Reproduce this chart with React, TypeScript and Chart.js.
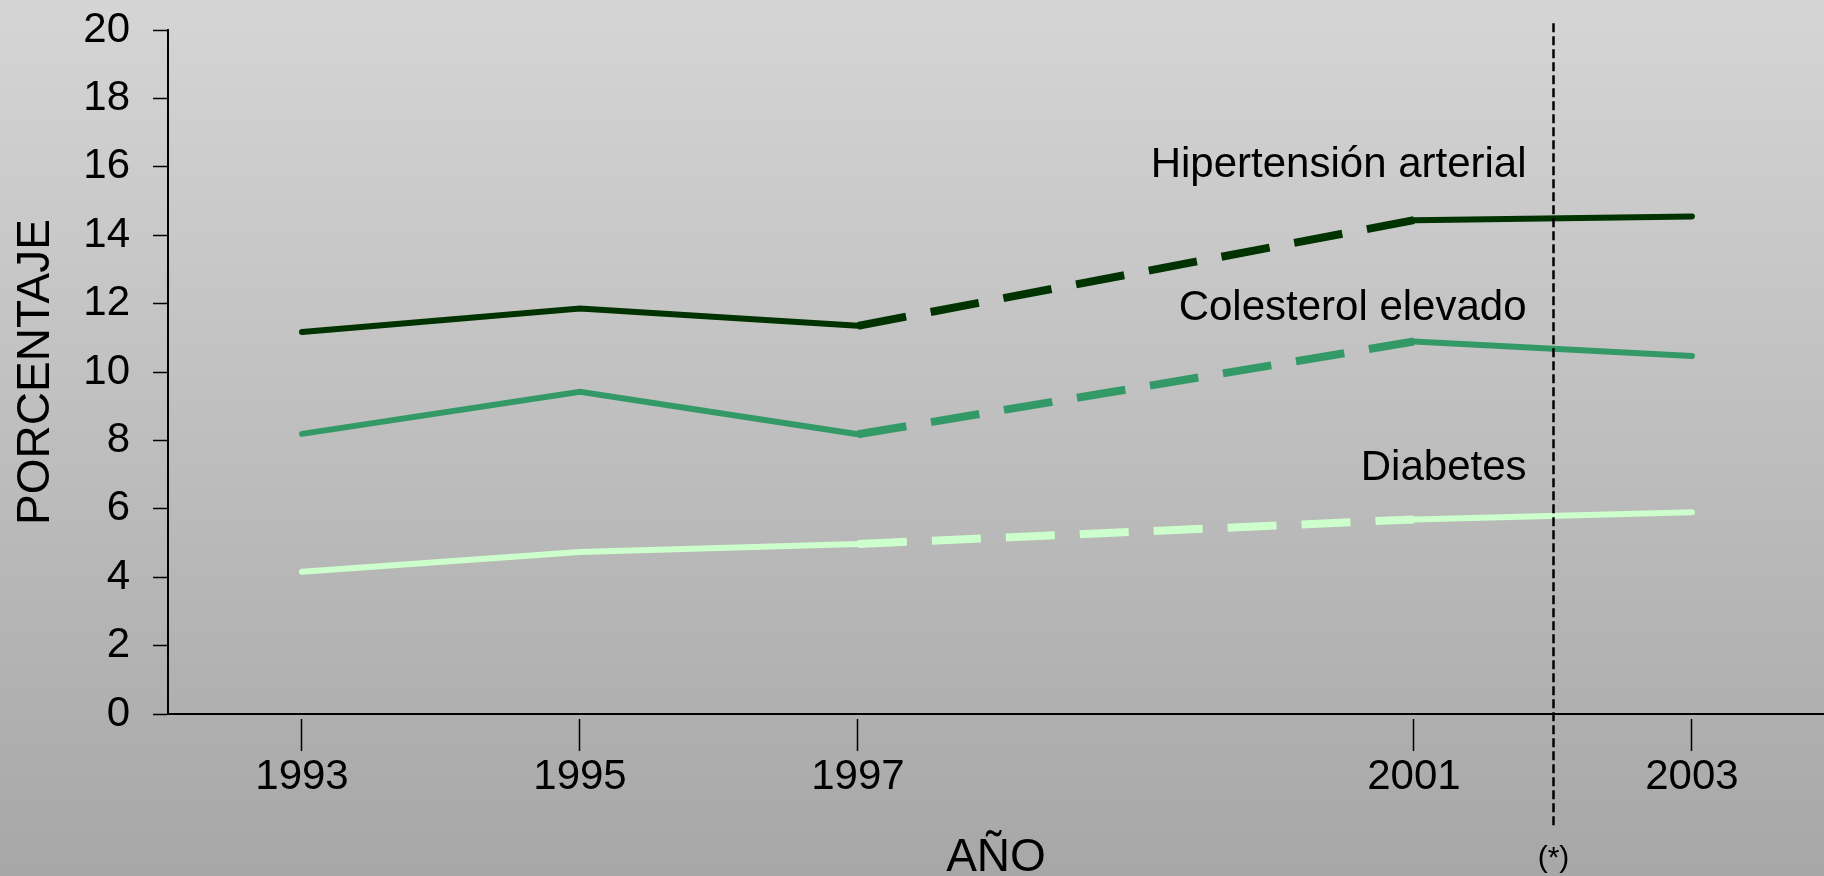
import React, { useEffect, useRef } from "react";
import { Chart, registerables } from "chart.js";

Chart.register(...registerables);

// ---- data ----
const years = [1993, 1995, 1997, 2001, 2003];
const hipertension = [11.17, 11.86, 11.35, 14.44, 14.55];
const colesterol = [8.19, 9.42, 8.18, 10.89, 10.47];
const diabetes = [4.16, 4.74, 4.97, 5.69, 5.9];
const seriesNames = ["Hipertensión arterial", "Colesterol elevado", "Diabetes"];
const seriesColors = ["#003300", "#339966", "#ccffcc"];
const yTicks = [0, 2, 4, 6, 8, 10, 12, 14, 16, 18, 20];
const labelYear = 2001.81;
const labelValues = [15.71, 11.52, 6.84];
const markerYear = 2002;
const markerNote = "(*)";
const markerTopValue = 20.2;
const markerBottomValue = -3.3;
const xTitle = "AÑO";
const yTitle = "PORCENTAJE";

const FONT = "'Liberation Sans', Arial, sans-serif";
const DASHED_FROM = 2; // segment 1997 -> 2001 is dashed

const bgPlugin = {
  id: "bgGradient",
  beforeDraw(chart: any) {
    const { ctx, width, height } = chart;
    ctx.save();
    const g = ctx.createLinearGradient(0, 0, 0, height);
    g.addColorStop(0, "#d5d5d5");
    g.addColorStop(1, "#a7a7a7");
    ctx.fillStyle = g;
    ctx.fillRect(0, 0, width, height);
    ctx.restore();
  },
};

const annotPlugin = {
  id: "annotations",
  afterDraw(chart: any) {
    const { ctx } = chart;
    const xs = chart.scales.x;
    const ys = chart.scales.y;
    ctx.save();
    ctx.font = `42px ${FONT}`;
    ctx.fillStyle = "#000";
    ctx.textAlign = "right";
    ctx.textBaseline = "alphabetic";
    seriesNames.forEach((name, i) => {
      ctx.fillText(name, xs.getPixelForValue(labelYear), ys.getPixelForValue(labelValues[i]));
    });
    const mx = Math.round(xs.getPixelForValue(markerYear)) + 0.5;
    const yTop = ys.getPixelForValue(markerTopValue);
    const yBot = ys.getPixelForValue(markerBottomValue);
    ctx.strokeStyle = "#000";
    ctx.lineWidth = 2.5;
    ctx.setLineDash([9, 4]);
    ctx.beginPath();
    ctx.moveTo(mx, yTop);
    ctx.lineTo(mx, yBot);
    ctx.stroke();
    ctx.setLineDash([]);
    ctx.font = `30px ${FONT}`;
    ctx.textAlign = "center";
    ctx.textBaseline = "alphabetic";
    ctx.fillText(markerNote, mx, yBot + 40);
    ctx.restore();
  },
};

function makeDataset(label: string, values: number[], color: string) {
  return {
    label,
    data: years.map((y, i) => ({ x: y, y: values[i] })),
    borderColor: color,
    backgroundColor: color,
    borderWidth: 6,
    pointRadius: 0,
    pointHoverRadius: 0,
    tension: 0,
    fill: false,
    borderCapStyle: "round",
    borderJoinStyle: "miter",
    segment: {
      borderDash: (c: any) => (c.p0DataIndex === DASHED_FROM ? [49, 25] : undefined),
      borderWidth: (c: any) => (c.p0DataIndex === DASHED_FROM ? 8 : undefined),
      borderCapStyle: (c: any) => (c.p0DataIndex === DASHED_FROM ? "butt" : undefined),
    },
  };
}

export default function App() {
  const ref = useRef<HTMLCanvasElement | null>(null);
  useEffect(() => {
    document.body.style.margin = "0";
    const canvas = ref.current;
    if (!canvas) return;
    const chart = new Chart(canvas, {
      type: "line",
      data: {
        datasets: [
          makeDataset(seriesNames[0], hipertension, seriesColors[0]),
          makeDataset(seriesNames[1], colesterol, seriesColors[1]),
          makeDataset(seriesNames[2], diabetes, seriesColors[2]),
        ] as any,
      },
      options: {
        responsive: false,
        animation: false,
        devicePixelRatio: 1,
        layout: { autoPadding: false, padding: { top: 30, left: 0, right: 0, bottom: 0 } },
        plugins: {
          legend: { display: false },
          tooltip: { enabled: false },
        },
        events: [],
        scales: {
          x: {
            type: "linear",
            position: "bottom",
            min: 1992.036,
            max: 2003.95,
            afterBuildTicks: (s: any) => {
              s.ticks = years.map((v) => ({ value: v }));
            },
            afterFit: (s: any) => {
              s.height = 162;
              s.paddingLeft = 0;
              s.paddingRight = 0;
            },
            ticks: {
              callback: (v: any) => String(v),
              font: { family: FONT, size: 42 },
              color: "#000",
              padding: 1,
              maxRotation: 0,
              autoSkip: false,
            },
            grid: {
              display: true,
              drawOnChartArea: false,
              drawTicks: true,
              tickLength: 37,
              tickColor: "#000",
              tickWidth: 1.5,
              tickBorderDash: [0, 4, 33, 200],
            },
            border: { display: true, color: "#000", width: 2 },
            title: {
              display: true,
              text: xTitle,
              color: "#000",
              font: { family: FONT, size: 46, lineHeight: 0.6 },
              padding: { top: 0, bottom: 3.7 },
            },
          },
          y: {
            type: "linear",
            min: 0,
            max: 20,
            afterBuildTicks: (s: any) => {
              s.ticks = yTicks.map((v) => ({ value: v }));
            },
            afterFit: (s: any) => {
              s.width = 168;
              s.paddingTop = 0;
              s.paddingBottom = 0;
            },
            ticks: {
              callback: (v: any) => String(v),
              font: { family: FONT, size: 42 },
              color: "#000",
              padding: 23,
            },
            grid: {
              display: true,
              drawOnChartArea: false,
              drawTicks: true,
              tickLength: 15,
              tickColor: "#000",
              tickWidth: 1.5,
            },
            border: { display: true, color: "#000", width: 2 },
            title: {
              display: true,
              text: yTitle,
              color: "#000",
              font: { family: FONT, size: 46, lineHeight: 1 },
              padding: { top: 13.5, bottom: 0 },
            },
          },
        },
      } as any,
      plugins: [bgPlugin, annotPlugin],
    });
    return () => chart.destroy();
  }, []);
  return (
    <div style={{ width: 1824, height: 876 }}>
      <canvas ref={ref} width={1824} height={876} style={{ display: "block" }} />
    </div>
  );
}
